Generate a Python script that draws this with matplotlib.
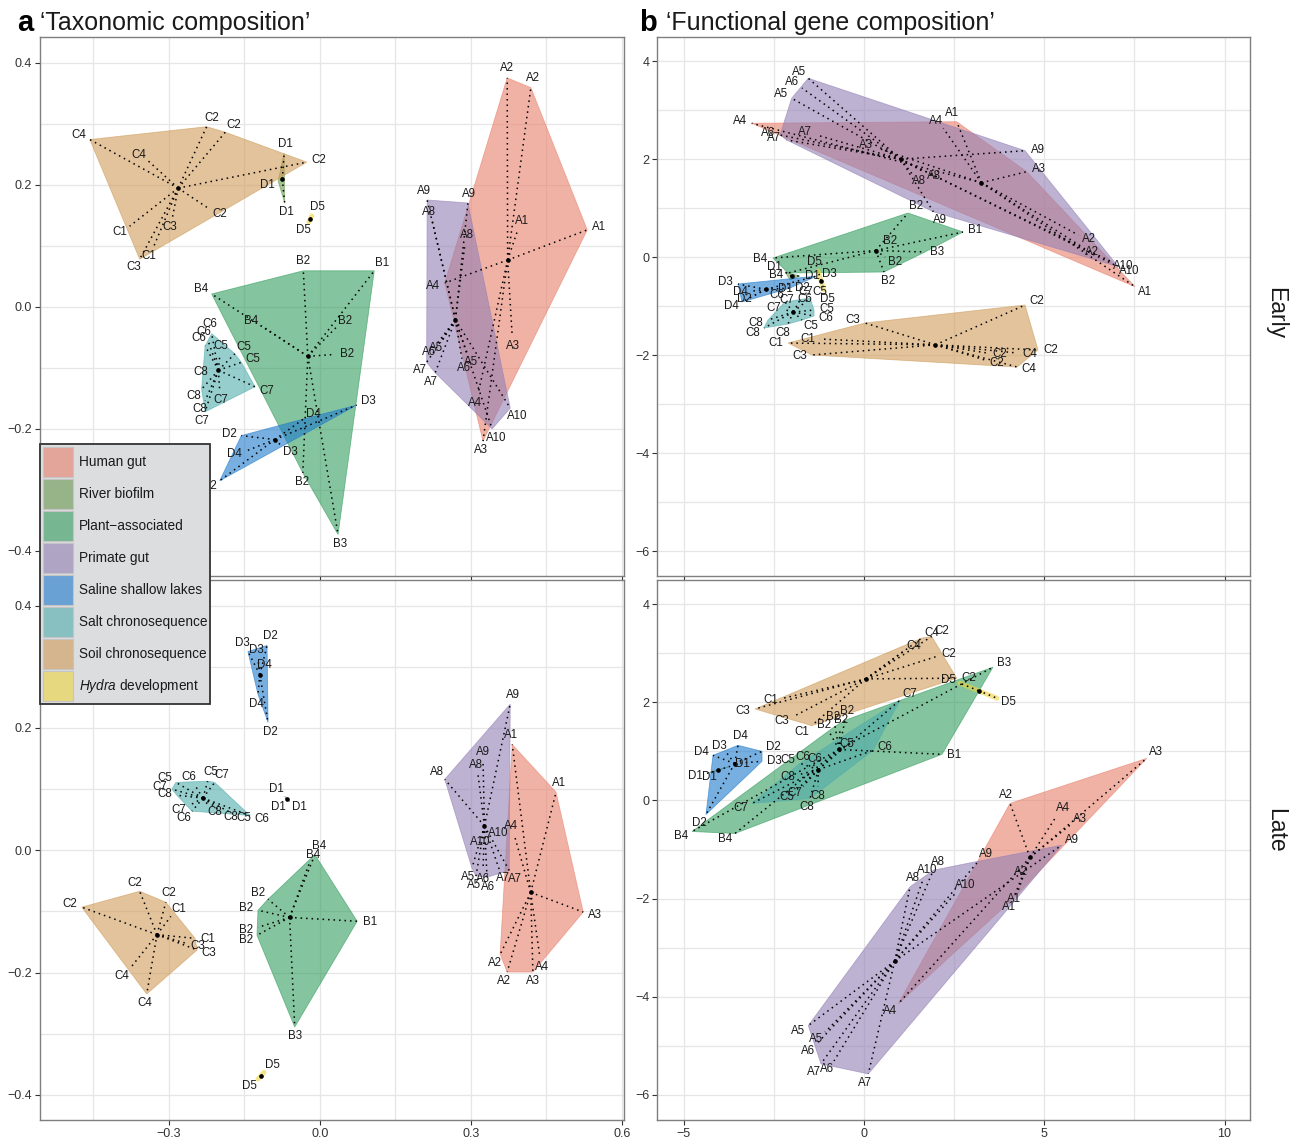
import numpy as np
import matplotlib
matplotlib.use("Agg")
import matplotlib.pyplot as plt
from matplotlib.patches import Polygon, Patch

plt.rcParams["font.family"] = ["Liberation Sans", "DejaVu Sans"]
plt.rcParams["mathtext.fontset"] = "custom"
plt.rcParams["mathtext.it"] = "Liberation Sans:italic"
plt.rcParams["mathtext.rm"] = "Liberation Sans"

# ---------------------------------------------------------------- groups
GROUP_KEYS = ["HG", "RB", "PA", "PG", "SL", "SC", "SO", "HY"]
GROUP_NAMES = ["Human gut", "River biofilm", "Plant\u2212associated", "Primate gut",
               "Saline shallow lakes", "Salt chronosequence", "Soil chronosequence",
               r"$\mathit{Hydra}$ development"]
GROUP_COLORS = ["#E97F6B", "#6A9A50", "#329D5D", "#937FB4",
                "#1E7ACD", "#50ACAC", "#CF9B58", "#EED53F"]

# ---------------------------------------------------------------- taxonomic, early
TAX_EARLY_GRP = (["HG"] * 8 + ["PG"] * 12 + ["PA"] * 8 + ["SC"] * 12 + ["SO"] * 10
                 + ["SL"] * 6 + ["RB"] * 3 + ["HY"] * 2)
TAX_EARLY_LAB = ["A2", "A2", "A1", "A1", "A4", "A3", "A4", "A3",
                 "A9", "A9", "A8", "A8", "A6", "A5", "A7", "A7", "A5", "A6", "A10", "A10",
                 "B2", "B1", "B4", "B4", "B2", "B2", "B2", "B3",
                 "C6", "C6", "C6", "C5", "C5", "C5", "C8", "C7", "C8", "C7", "C8", "C7",
                 "C4", "C2", "C2", "C2", "C4", "C2", "C1", "C3", "C1", "C3",
                 "D4", "D3", "D2", "D4", "D3", "D2",
                 "D1", "D1", "D1",
                 "D5", "D5"]
TAX_EARLY_X = [0.372, 0.419, 0.393, 0.531, 0.248, 0.382, 0.314, 0.324,
               0.213, 0.294, 0.223, 0.288, 0.232, 0.244, 0.212, 0.229, 0.292, 0.282, 0.378, 0.342,
               -0.033, 0.108, -0.215, -0.116, 0.032, 0.030, -0.034, 0.036,
               -0.215, -0.222, -0.228, -0.199, -0.169, -0.156, -0.212, -0.129, -0.235, -0.199, -0.228, -0.228,
               -0.457, -0.225, -0.188, -0.026, -0.341, -0.219, -0.378, -0.293, -0.331, -0.358,
               -0.033, 0.073, -0.156, -0.146, -0.076, -0.199,
               -0.071, -0.083, -0.070,
               -0.016, -0.022]
TAX_EARLY_Y = [0.375, 0.359, 0.126, 0.126, 0.039, -0.049, -0.143, -0.220,
               0.175, 0.170, 0.141, 0.102, -0.061, -0.054, -0.091, -0.108, -0.075, -0.085, -0.166, -0.200,
               0.059, 0.059, 0.021, -0.031, -0.034, -0.078, -0.272, -0.373,
               -0.044, -0.056, -0.064, -0.080, -0.077, -0.091, -0.105, -0.131, -0.135, -0.138, -0.154, -0.172,
               0.274, 0.295, 0.286, 0.237, 0.239, 0.160, 0.132, 0.146, 0.097, 0.078,
               -0.184, -0.161, -0.211, -0.236, -0.228, -0.285,
               0.252, 0.206, 0.170,
               0.149, 0.139]

# ---------------------------------------------------------------- taxonomic, late
TAX_LATE_GRP = (["HG"] * 8 + ["PG"] * 12 + ["PA"] * 8 + ["SC"] * 12 + ["SO"] * 9
                + ["SL"] * 6 + ["RB"] * 3 + ["HY"] * 2)
TAX_LATE_LAB = ["A1", "A1", "A4", "A3", "A2", "A4", "A2", "A3",
                "A9", "A9", "A8", "A8", "A10", "A10", "A5", "A6", "A7", "A7", "A5", "A6",
                "B4", "B4", "B2", "B2", "B1", "B2", "B2", "B3",
                "C5", "C6", "C5", "C7", "C7", "C8", "C7", "C8", "C6", "C8", "C5", "C6",
                "C2", "C2", "C2", "C1", "C1", "C3", "C3", "C4", "C4",
                "D3", "D2", "D3", "D4", "D4", "D2",
                "D1", "D1", "D1",
                "D5", "D5"]
TAX_LATE_X = [0.382, 0.469, 0.386, 0.523, 0.358, 0.437, 0.372, 0.423,
              0.378, 0.324, 0.314, 0.248, 0.334, 0.324, 0.302, 0.324, 0.356, 0.376, 0.310, 0.332,
              -0.010, -0.022, -0.123, -0.103, 0.074, -0.123, -0.125, -0.050,
              -0.286, -0.248, -0.223, -0.209, -0.294, -0.284, -0.258, -0.223, -0.254, -0.197, -0.173, -0.139,
              -0.358, -0.306, -0.473, -0.296, -0.248, -0.266, -0.244, -0.378, -0.344,
              -0.143, -0.105, -0.123, -0.119, -0.123, -0.103,
              -0.070, -0.060, -0.066,
              -0.123, -0.111]
TAX_LATE_Y = [0.173, 0.095, 0.025, -0.101, -0.170, -0.175, -0.199, -0.199,
              0.239, 0.145, 0.124, 0.116, 0.036, 0.028, -0.029, -0.031, -0.031, -0.033, -0.042, -0.044,
              -0.007, -0.023, -0.098, -0.080, -0.116, -0.126, -0.139, -0.289,
              0.111, 0.106, 0.113, 0.111, 0.100, 0.090, 0.074, 0.075, 0.064, 0.064, 0.060, 0.057,
              -0.067, -0.085, -0.093, -0.108, -0.144, -0.152, -0.163, -0.194, -0.235,
              0.325, 0.335, 0.312, 0.288, 0.255, 0.209,
              0.088, 0.080, 0.083,
              -0.374, -0.363]

# ---------------------------------------------------------------- functional, early
FUN_EARLY_GRP = (["HG"] * 8 + ["PG"] * 12 + ["PA"] * 8 + ["SC"] * 12 + ["SO"] * 10
                 + ["SL"] * 6 + ["RB"] * 3 + ["HY"] * 2)
FUN_EARLY_LAB = ["A4", "A1", "A4", "A3", "A3", "A2", "A2", "A1",
                 "A5", "A6", "A5", "A6", "A7", "A7", "A9", "A8", "A8", "A9", "A10", "A10",
                 "B2", "B1", "B2", "B4", "B3", "B2", "B2", "B4",
                 "C6", "C7", "C5", "C7", "C6", "C7", "C5", "C8", "C8", "C5", "C6", "C8",
                 "C2", "C3", "C1", "C1", "C3", "C2", "C2", "C4", "C2", "C4",
                 "D3", "D4", "D2", "D4", "D2", "D3",
                 "D1", "D1", "D1",
                 "D5", "D5"]
FUN_EARLY_X = [-3.115, 2.571, 2.200, 0.397, 4.513, 5.945, 6.039, 7.517,
               -1.545, -1.720, -2.006, -2.330, -1.312, -2.144, 4.466, 1.645, 1.323, 1.922, 7.054, 6.879,
               1.221, 2.746, 0.444, -2.524, 1.692, 0.583, 0.555, -2.108,
               -2.191, -1.775, -1.498, -2.164, -1.859, -1.997, -1.387, -2.663, -2.108, -1.720, -1.387, -2.774,
               4.466, 0.028, -1.221, -2.108, -1.442, 3.412, 3.356, 4.244, 4.827, 4.244,
               -3.495, -3.079, -3.024, -3.384, -2.053, -1.304,
               -2.191, -2.053, -1.775,
               -1.276, -1.110]
FUN_EARLY_Y = [2.729, 2.761, 2.627, 2.218, 1.741, 0.449, 0.210, -0.606,
               3.647, 3.449, 3.239, 2.490, 2.490, 2.388, 2.169, 1.741, 1.708, 0.924, -0.198, -0.102,
               0.898, 0.510, 0.204, -0.020, 0.102, 0.000, -0.306, -0.327,
               -0.918, -0.878, -0.837, -1.082, -1.020, -1.061, -1.082, -1.286, -1.367, -1.286, -1.204, -1.449,
               -0.980, -1.347, -1.673, -1.755, -2.000, -1.959, -2.102, -1.959, -1.898, -2.245,
               -0.551, -0.694, -0.776, -0.918, -0.633, -0.388,
               -0.306, -0.469, -0.388,
               -0.286, -0.673]

# ---------------------------------------------------------------- functional, late
FUN_LATE_GRP = (["HG"] * 8 + ["PG"] * 12 + ["PA"] * 8 + ["SC"] * 12 + ["SO"] * 9
                + ["SL"] * 6 + ["RB"] * 3 + ["HY"] * 2)
FUN_LATE_LAB = ["A3", "A2", "A4", "A3", "A2", "A1", "A1", "A4",
                "A9", "A9", "A10", "A8", "A8", "A10", "A5", "A5", "A6", "A7", "A6", "A7",
                "B3", "B2", "B2", "B2", "B2", "B1", "B4", "B4",
                "C7", "C5", "C6", "C5", "C6", "C6", "C8", "C7", "C5", "C8", "C8", "C7",
                "C4", "C2", "C4", "C2", "C2", "C1", "C3", "C3", "C1",
                "D4", "D3", "D4", "D2", "D3", "D2",
                "D1", "D1", "D1",
                "D5", "D5"]
FUN_LATE_X = [7.842, 4.050, 5.345, 5.714, 4.513, 4.280, 4.141, 0.951,
              5.484, 3.171, 1.645, 1.922, 1.276, 2.571, -1.545, -1.082, -1.312, -1.193, -0.832, 0.119,
              3.578, -0.804, -0.527, -0.666, -0.943, 2.164, -4.771, -3.578,
              0.999, -0.721, 0.250, -1.775, -1.442, -1.276, -1.775, -1.692, -1.886, -1.276, -1.498, -3.107,
              1.601, 1.878, 1.090, 2.017, 2.571, -2.239, -3.024, -1.961, -1.451,
              -4.189, -3.800, -3.495, -2.829, -2.829, -4.383,
              -4.355, -3.717, -4.050,
              2.663, 3.689]
FUN_LATE_Y = [0.857, -0.061, -0.312, -0.504, -1.286, -1.831, -2.000, -4.143,
              -0.912, -1.239, -1.592, -1.422, -1.761, -1.863, -4.586, -4.720, -4.959, -5.367, -5.306, -5.571,
              2.714, 1.510, 1.633, 1.449, 1.367, 0.939, -0.633, -0.673,
              2.041, 1.020, 1.020, 0.755, 0.755, 0.653, 0.531, 0.286, 0.204, 0.286, 0.041, -0.061,
              3.306, 3.341, 3.035, 2.933, 2.490, 2.082, 1.863, 1.708, 1.524,
              0.918, 0.959, 1.122, 1.000, 0.796, -0.286,
              0.551, 0.694, 0.612,
              2.388, 2.082]

# ---------------------------------------------------------------- axes scales
TAX_XTICKS = [-0.3, 0.0, 0.3, 0.6]
TAX_XTICKLABELS = ["\u22120.3", "0.0", "0.3", "0.6"]
TAX_XMINOR = [-0.45, -0.15, 0.15, 0.45]
TAX_YTICKS = [-0.4, -0.2, 0.0, 0.2, 0.4]
TAX_YTICKLABELS = ["\u22120.4", "\u22120.2", "0.0", "0.2", "0.4"]
TAX_YMINOR = [-0.3, -0.1, 0.1, 0.3]
FUN_XTICKS = [-5, 0, 5, 10]
FUN_XTICKLABELS = ["\u22125", "0", "5", "10"]
FUN_XMINOR = [-2.5, 2.5, 7.5]
FUN_YTICKS = [-6, -4, -2, 0, 2, 4]
FUN_YTICKLABELS = ["\u22126", "\u22124", "\u22122", "0", "2", "4"]
FUN_YMINOR = [-5, -3, -1, 1, 3]

TAX_XLIM = (-0.556, 0.604)
TAX_YLIM = (-0.441, 0.442)
FUN_XLIM = (-5.742, 10.707)
FUN_YLIM = (-6.51, 4.49)

W, H = 1298, 1142
fig = plt.figure(figsize=(W / 100, H / 100), dpi=100)


def px_axes(x0, y0, x1, y1):
    return fig.add_axes([x0 / W, 1 - y1 / H, (x1 - x0) / W, (y1 - y0) / H])


def convex_hull(points):
    pts = sorted(set(map(tuple, points)))
    if len(pts) < 3:
        return np.array(pts)

    def cross(o, a, b):
        return (a[0] - o[0]) * (b[1] - o[1]) - (a[1] - o[1]) * (b[0] - o[0])

    lower, upper = [], []
    for p in pts:
        while len(lower) >= 2 and cross(lower[-2], lower[-1], p) <= 0:
            lower.pop()
        lower.append(p)
    for p in reversed(pts):
        while len(upper) >= 2 and cross(upper[-2], upper[-1], p) <= 0:
            upper.pop()
        upper.append(p)
    return np.array(lower[:-1] + upper[:-1])


def style_axes(ax, xlim, ylim, xt, xtl, xm, yt, ytl, ym, show_x):
    ax.set_xlim(*xlim)
    ax.set_ylim(*ylim)
    ax.set_xticks(xt)
    ax.set_xticks(xm, minor=True)
    ax.set_yticks(yt)
    ax.set_yticks(ym, minor=True)
    ax.set_yticklabels(ytl)
    if show_x:
        ax.set_xticklabels(xtl)
    else:
        ax.set_xticklabels([])
    ax.grid(which="both", color="#E6E6E6", lw=0.9)
    ax.set_axisbelow(True)
    ax.tick_params(which="major", length=3.5, width=0.8, color="#333333",
                   labelsize=9, labelcolor="#333333", pad=2)
    ax.tick_params(which="minor", length=0)
    for s in ax.spines.values():
        s.set_color("#7F7F7F")
        s.set_linewidth(1.0)


def draw_panel(ax, grp, lab, xs, ys):
    grp = np.array(grp)
    xs = np.array(xs, float)
    ys = np.array(ys, float)
    # hulls
    for key, col in zip(GROUP_KEYS, GROUP_COLORS):
        m = grp == key
        if not m.any():
            continue
        h = convex_hull(np.column_stack([xs[m], ys[m]]))
        if len(h) >= 3:
            ax.add_patch(Polygon(h, closed=True, facecolor=col, edgecolor=col,
                                 alpha=0.6, lw=0.6, zorder=2))
        else:
            ax.plot(h[:, 0], h[:, 1], color=col, alpha=0.6, lw=3.5,
                    solid_capstyle="round", zorder=2)
    # spokes from each group's centroid
    for key in GROUP_KEYS:
        m = grp == key
        if not m.any():
            continue
        cx, cy = xs[m].mean(), ys[m].mean()
        for x, y in zip(xs[m], ys[m]):
            ax.plot([cx, x], [cy, y], color="black", ls=(0, (1, 2.6)), lw=1.1,
                    zorder=3)
        ax.plot([cx], [cy], "o", ms=2.3, color="black", zorder=3)
    # sample labels pushed away from the centroid
    for key in GROUP_KEYS:
        m = np.where(grp == key)[0]
        if len(m) == 0:
            continue
        c = ax.transData.transform((xs[m].mean(), ys[m].mean()))
        for i in m:
            p = ax.transData.transform((xs[i], ys[i]))
            d = p - c
            n = np.hypot(*d)
            u = d / n if n > 1e-6 else np.array([0.0, 1.0])
            ax.annotate(lab[i], (xs[i], ys[i]), xytext=(u[0] * 9.0, u[1] * 6.8),
                        textcoords="offset points", ha="center", va="center",
                        fontsize=8.3, color="#1A1A1A", zorder=5)


ax_tl = px_axes(40, 37, 624, 576)
ax_bl = px_axes(40, 580, 624, 1120)
ax_tr = px_axes(657, 37, 1250, 576)
ax_br = px_axes(657, 580, 1250, 1120)

style_axes(ax_tl, TAX_XLIM, TAX_YLIM, TAX_XTICKS, TAX_XTICKLABELS, TAX_XMINOR,
           TAX_YTICKS, TAX_YTICKLABELS, TAX_YMINOR, False)
style_axes(ax_bl, TAX_XLIM, TAX_YLIM, TAX_XTICKS, TAX_XTICKLABELS, TAX_XMINOR,
           TAX_YTICKS, TAX_YTICKLABELS, TAX_YMINOR, True)
style_axes(ax_tr, FUN_XLIM, FUN_YLIM, FUN_XTICKS, FUN_XTICKLABELS, FUN_XMINOR,
           FUN_YTICKS, FUN_YTICKLABELS, FUN_YMINOR, False)
style_axes(ax_br, FUN_XLIM, FUN_YLIM, FUN_XTICKS, FUN_XTICKLABELS, FUN_XMINOR,
           FUN_YTICKS, FUN_YTICKLABELS, FUN_YMINOR, True)

draw_panel(ax_tl, TAX_EARLY_GRP, TAX_EARLY_LAB, TAX_EARLY_X, TAX_EARLY_Y)
draw_panel(ax_bl, TAX_LATE_GRP, TAX_LATE_LAB, TAX_LATE_X, TAX_LATE_Y)
draw_panel(ax_tr, FUN_EARLY_GRP, FUN_EARLY_LAB, FUN_EARLY_X, FUN_EARLY_Y)
draw_panel(ax_br, FUN_LATE_GRP, FUN_LATE_LAB, FUN_LATE_X, FUN_LATE_Y)

# panel titles
fig.text(17 / W, 1 - 23 / H, "a", fontsize=21, fontweight="bold", va="center", ha="left")
fig.text(40 / W, 1 - 23 / H, "\u2018Taxonomic composition\u2019", fontsize=18,
         va="center", ha="left", color="#1A1A1A")
fig.text(639 / W, 1 - 23 / H, "b", fontsize=21, fontweight="bold", va="center", ha="left")
fig.text(666 / W, 1 - 23 / H, "\u2018Functional gene composition\u2019", fontsize=18,
         va="center", ha="left", color="#1A1A1A")

# row strips
fig.text(1276 / W, 1 - 313 / H, "Early", fontsize=16.5, rotation=-90,
         ha="center", va="center", color="#1A1A1A")
fig.text(1276 / W, 1 - 830 / H, "Late", fontsize=16.5, rotation=-90,
         ha="center", va="center", color="#1A1A1A")

# legend
handles = [Patch(facecolor=matplotlib.colors.to_rgba(c, 0.6), edgecolor="#C4C4C4", lw=0.8)
           for c in GROUP_COLORS]
leg = fig.legend(handles, GROUP_NAMES, loc="upper left",
                 bbox_to_anchor=(40 / W, 1 - 444 / H), borderaxespad=0,
                 fontsize=9.8, handlelength=2.2, handleheight=3.0,
                 labelspacing=0.16, handletextpad=0.45, borderpad=0.2,
                 fancybox=False, framealpha=1)
leg.get_frame().set_facecolor("#DCDDDF")
leg.get_frame().set_edgecolor("#333333")
leg.get_frame().set_linewidth(1.3)
for t in leg.get_texts():
    t.set_color("#1A1A1A")

fig.savefig("out.png", dpi=100)
